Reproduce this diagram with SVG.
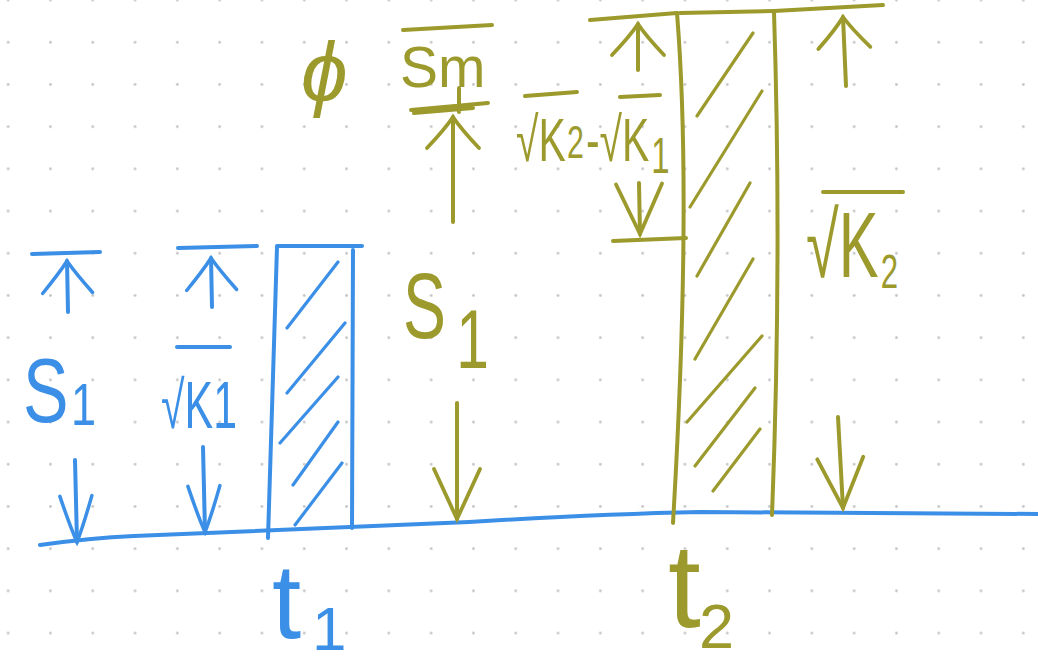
<svg xmlns="http://www.w3.org/2000/svg" width="1038" height="666" viewBox="0 0 1038 666">
<style>
.b{stroke:#3b8fe6;fill:none;stroke-width:4;stroke-linecap:round;stroke-linejoin:round}
.o{stroke:#9c9a2d;fill:none;stroke-width:4;stroke-linecap:round;stroke-linejoin:round}
.h{stroke-width:3.2}
.tb{fill:#3b8fe6;font-family:"Liberation Sans","DejaVu Sans",sans-serif}
.to{fill:#9c9a2d;font-family:"Liberation Sans","DejaVu Sans",sans-serif}
.bu{marker-end:url(#hbU)} .bd{marker-end:url(#hbD)}
.ou{marker-end:url(#hoU)} .od{marker-end:url(#hoD)}
</style>
<defs>
<pattern id="dots" patternUnits="userSpaceOnUse" x="-13" y="-21" width="42.3" height="42.2">
<circle cx="21.15" cy="21.1" r="1.4" fill="#c6c6c6"/>
</pattern>
<marker id="hbU" markerUnits="userSpaceOnUse" viewBox="-50 -30 56 60" markerWidth="56" markerHeight="60" refX="0" refY="0" orient="auto" overflow="visible">
<path d="M-32,-25 Q-12,-8 0,0 Q-12,8 -32,25" fill="none" stroke="#3b8fe6" stroke-width="3.5" stroke-linecap="round"/>
</marker>
<marker id="hbD" markerUnits="userSpaceOnUse" viewBox="-50 -30 56 60" markerWidth="56" markerHeight="60" refX="0" refY="0" orient="auto" overflow="visible">
<path d="M-46,-16 Q-14,-6 0,0 Q-14,6 -46,16" fill="none" stroke="#3b8fe6" stroke-width="3.5" stroke-linecap="round"/>
</marker>
<marker id="hoU" markerUnits="userSpaceOnUse" viewBox="-50 -30 56 60" markerWidth="56" markerHeight="60" refX="0" refY="0" orient="auto" overflow="visible">
<path d="M-31,-26 Q-12,-8 0,0 Q-12,8 -31,26" fill="none" stroke="#9c9a2d" stroke-width="3.8" stroke-linecap="round"/>
</marker>
<marker id="hoD" markerUnits="userSpaceOnUse" viewBox="-60 -30 66 60" markerWidth="66" markerHeight="60" refX="0" refY="0" orient="auto" overflow="visible">
<path d="M-50,-23 Q-15,-7 0,0 Q-15,7 -50,23" fill="none" stroke="#9c9a2d" stroke-width="3.8" stroke-linecap="round"/>
</marker>
</defs>
<rect width="1038" height="666" fill="#ffffff"/>
<rect id="grid" width="1038" height="666" fill="url(#dots)"/>

<g id="baseline">
<path class="b" stroke-width="4.5" d="M40,545 Q90,538 134,536 L469,522 Q600,514 700,512 L1038,514"/>
</g>

<g id="bar-t1">
<path class="b" d="M277,247 L268,538"/>
<path class="b" d="M353,250 L352,528"/>
<path class="b" d="M277,246 L362,246"/>
<path class="b h" d="M287,328 L338,262 M287,393 L345,323 M280,443 L338,377 M293,485 L338,422 M295,525 L342,463"/>
</g>

<g id="bar-t2">
<path class="o" d="M677,13 Q692,200 673,523"/>
<path class="o" d="M774,12 Q782,260 772,515"/>
<path class="o" d="M680,13 L774,11"/>
<path class="o h" d="M697,116 L753,33 M690,207 L762,91 M697,276 L750,183 M695,359 L753,259 M687,422 L762,336 M695,466 L755,388 M713,491 L760,429"/>
</g>

<g id="label-s1-blue">
<text class="tb" transform="translate(23,422) scale(0.75,1)" font-size="91">S<tspan x="64" dy="3" font-size="60">1</tspan></text>
</g>
<g id="label-k1-blue">
<path class="b" d="M177,347 L230,347"/>
<text class="tb" x="161" y="428" font-size="66" textLength="76" lengthAdjust="spacingAndGlyphs">√K1</text>
</g>
<g id="label-t1">
<text class="tb" x="272" y="638" font-size="105">t<tspan x="312" y="650" font-size="62">1</tspan></text>
</g>
<g id="label-phi">
<text class="to" x="301" y="101" font-size="84" font-style="italic">ϕ</text>
</g>
<g id="label-sm">
<path class="o" d="M403,30 L492,25"/>
<text class="to" x="400" y="87" font-size="57">Sm</text>
</g>
<g id="label-s1-olive">
<text class="to" transform="translate(403,338) scale(0.7,1)" font-size="92">S<tspan x="76" dy="30" font-size="84">1</tspan></text>
</g>
<g id="label-k2-k1">
<path class="o" d="M525,96 L577,92 M620,97 L660,95"/>
<text class="to" transform="translate(516,161) scale(0.66,1)" font-size="62">√K<tspan dx="2" font-size="46" dy="-3">2</tspan><tspan dx="3" dy="3">-√K</tspan><tspan dx="3" font-size="50" dy="12">1</tspan></text>
</g>
<g id="label-k2">
<path class="o" d="M823,192 L903,192"/>
<text class="to" transform="translate(806,277) scale(0.65,1)" font-size="92">√K<tspan dx="3" font-size="48" dy="11">2</tspan></text>
</g>
<g id="label-t2">
<text class="to" x="668" y="627" font-size="118">t<tspan x="699" y="648" font-size="63">2</tspan></text>
</g>

<g id="connectors">
<path class="b" d="M32,254 L100,252"/>
<path class="b" d="M178,248 L257,246"/>
<path class="b bu" d="M68,312 L67,261"/>
<path class="b bd" d="M75,460 L77,542"/>
<path class="b bu" d="M212,307 L211,258"/>
<path class="b bd" d="M203,447 L205,532"/>
<path class="o" d="M411,110 L488,103 M414,113 L473,108 M459,88 L459,112"/>
<path class="o" d="M590,20 L677,13"/>
<path class="o" d="M613,241 L686,238"/>
<path class="o" d="M774,11 L883,5"/>
<path class="o ou" d="M453,222 L453,117"/>
<path class="o od" d="M457,403 L457,519"/>
<path class="o ou" d="M638,70 L638,24"/>
<path class="o od" d="M639,183 L640,234"/>
<path class="o ou" d="M846,86 L843,17"/>
<path class="o od" d="M838,417 L843,508"/>
</g>
</svg>
